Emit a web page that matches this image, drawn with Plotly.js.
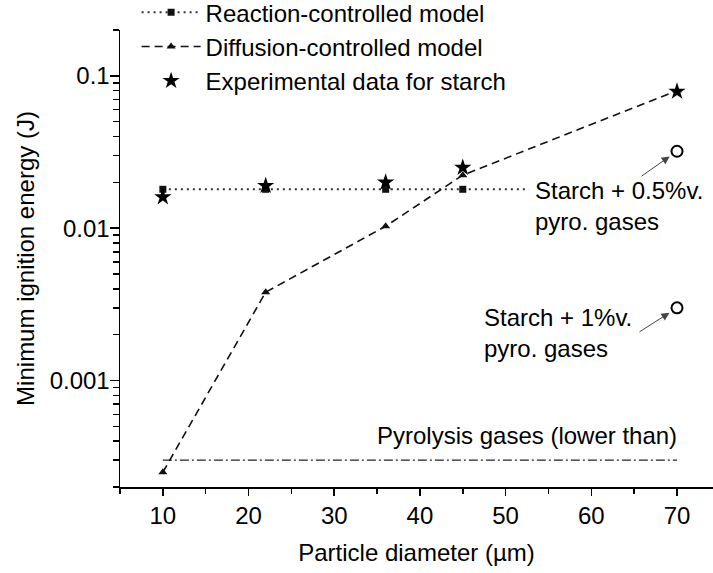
<!DOCTYPE html>
<html>
<head>
<meta charset="utf-8">
<script src="https://cdn.plot.ly/plotly-3.0.1.min.js"></script>
<style>html,body{margin:0;padding:0;background:#fff;overflow:hidden}#chart{width:713px;height:573px}</style>
</head>
<body>
<div id="chart"></div>
<script>
// ---- data ----
const diameter = [10, 22, 36, 45, 70];
const reactionMIE = [0.018, 0.018, 0.018, 0.018, 0.018];
const diffusionMIE = [0.00025, 0.0038, 0.0103, 0.0223, 0.08];
const experimentalMIE = [0.016, 0.019, 0.020, 0.025, 0.079];
const blendDiameter = [70, 70];
const blendMIE = [0.032, 0.003];
const blendLabels = ['Starch + 0.5%v.<br>pyro. gases', 'Starch + 1%v.<br>pyro. gases'];
const pyroDiameter = [10, 70];
const pyroMIE = [0.0003, 0.0003];
const pyroLabel = 'Pyrolysis gases (lower than)';
const seriesNames = ['Reaction-controlled model', 'Diffusion-controlled model', 'Experimental data for starch'];
const xTickVals = [10, 20, 30, 40, 50, 60, 70];
const yTickVals = [0.001, 0.01, 0.1];
const yTickText = ['0.001', '0.01', '0.1'];
const yMinorVals = [0.0002,0.0003,0.0004,0.0005,0.0006,0.0007,0.0008,0.0009,
                    0.002,0.003,0.004,0.005,0.006,0.007,0.008,0.009,
                    0.02,0.03,0.04,0.05,0.06,0.07,0.08,0.09,0.2];

const FONT = 'Liberation Sans, Arial, sans-serif';
const FS = 24;

const traces = [
  {x: pyroDiameter, y: pyroMIE, mode: 'lines', showlegend: false, hoverinfo: 'skip',
   line: {color: '#222', width: 1.2, dash: '9px,3px,2px,3px'}},
  {x: diameter, y: reactionMIE, name: seriesNames[0], mode: 'lines+markers',
   line: {color: '#333', width: 2, dash: '2px,4px'},
   marker: {symbol: 'square', size: 7, color: '#111'}},
  {x: diameter, y: diffusionMIE, name: seriesNames[1], mode: 'lines+markers',
   line: {color: '#111', width: 1.6, dash: '8px,5px'},
   marker: {symbol: 'triangle-up', size: 8, color: '#111'}},
  {x: diameter, y: experimentalMIE, name: seriesNames[2], mode: 'markers',
   marker: {symbol: 'star', size: 13, color: '#000'}},
  {x: blendDiameter, y: blendMIE, mode: 'markers', showlegend: false,
   marker: {symbol: 'circle-open', size: 11, color: '#000', line: {width: 2, color: '#000'}}}
];

const annotations = [
  {x: 52.6, y: -1.855, xref: 'x', yref: 'y', text: blendLabels[0], showarrow: false,
   xanchor: 'left', yanchor: 'middle', align: 'left', bgcolor: '#fff', borderpad: 6,
   font: {family: FONT, size: FS, color: '#000'}},
  {x: 47.2, y: -2.69, xref: 'x', yref: 'y', text: blendLabels[1], showarrow: false,
   xanchor: 'left', yanchor: 'middle', align: 'left',
   font: {family: FONT, size: FS, color: '#000'}},
  {x: 70.2, y: -3.36, xref: 'x', yref: 'y', text: pyroLabel, showarrow: false,
   xanchor: 'right', yanchor: 'middle', font: {family: FONT, size: FS, color: '#000'}},
  {x: blendDiameter[0], y: Math.log10(blendMIE[0]), xref: 'x', yref: 'y', text: '',
   showarrow: true, ax: -37, ay: 26, standoff: 9, arrowhead: 2, arrowsize: 1.6,
   arrowwidth: 1, arrowcolor: '#444'},
  {x: blendDiameter[1], y: Math.log10(blendMIE[1]), xref: 'x', yref: 'y', text: '',
   showarrow: true, ax: -39, ay: 25, standoff: 9, arrowhead: 2, arrowsize: 1.6,
   arrowwidth: 1, arrowcolor: '#444'}
];

const layout = {
  width: 713, height: 573,
  margin: {l: 120, r: 0, t: 30, b: 86, autoexpand: false},
  paper_bgcolor: '#fff', plot_bgcolor: '#fff',
  font: {family: FONT, size: FS, color: '#000'},
  showlegend: true,
  legend: {x: 0.028, y: 1.087, xanchor: 'left', yanchor: 'top', bgcolor: 'rgba(0,0,0,0)',
           font: {family: FONT, size: FS, color: '#000'}, itemwidth: 59, tracegroupgap: 0},
  xaxis: {range: [5, 74.2], tickmode: 'array', tickvals: xTickVals, ticks: 'outside',
          ticklen: 7, tickwidth: 1.5, tickcolor: '#000', showline: true, linecolor: '#000',
          linewidth: 1.5, showgrid: false, zeroline: false, mirror: false,
          minor: {dtick: 5, tick0: 0, ticks: 'outside', ticklen: 5, tickwidth: 1.5, tickcolor: '#000', showgrid: false},
          tickfont: {family: FONT, size: FS, color: '#000'},
          title: {text: 'Particle diameter (µm)', font: {family: FONT, size: FS, color: '#000'}, standoff: 16}},
  yaxis: {type: 'log', range: [Math.log10(0.0002), Math.log10(0.2)], tickmode: 'array',
          tickvals: yTickVals, ticktext: yTickText, ticks: 'outside', ticklen: 9, tickwidth: 1.5,
          tickcolor: '#000', showline: true, linecolor: '#000', linewidth: 1.5, showgrid: false,
          zeroline: false, mirror: false, ticklabelstandoff: -5,
          minor: {tickmode: 'array', tickvals: yMinorVals, ticks: 'outside', ticklen: 6, tickwidth: 1.5, tickcolor: '#000', showgrid: false},
          tickfont: {family: FONT, size: FS, color: '#000'},
          title: {text: 'Minimum ignition energy (J)', font: {family: FONT, size: FS, color: '#000'}, standoff: 8}},
  annotations: annotations
};

Plotly.newPlot('chart', traces, layout, {displayModeBar: false, staticPlot: true});
</script>
</body>
</html>
